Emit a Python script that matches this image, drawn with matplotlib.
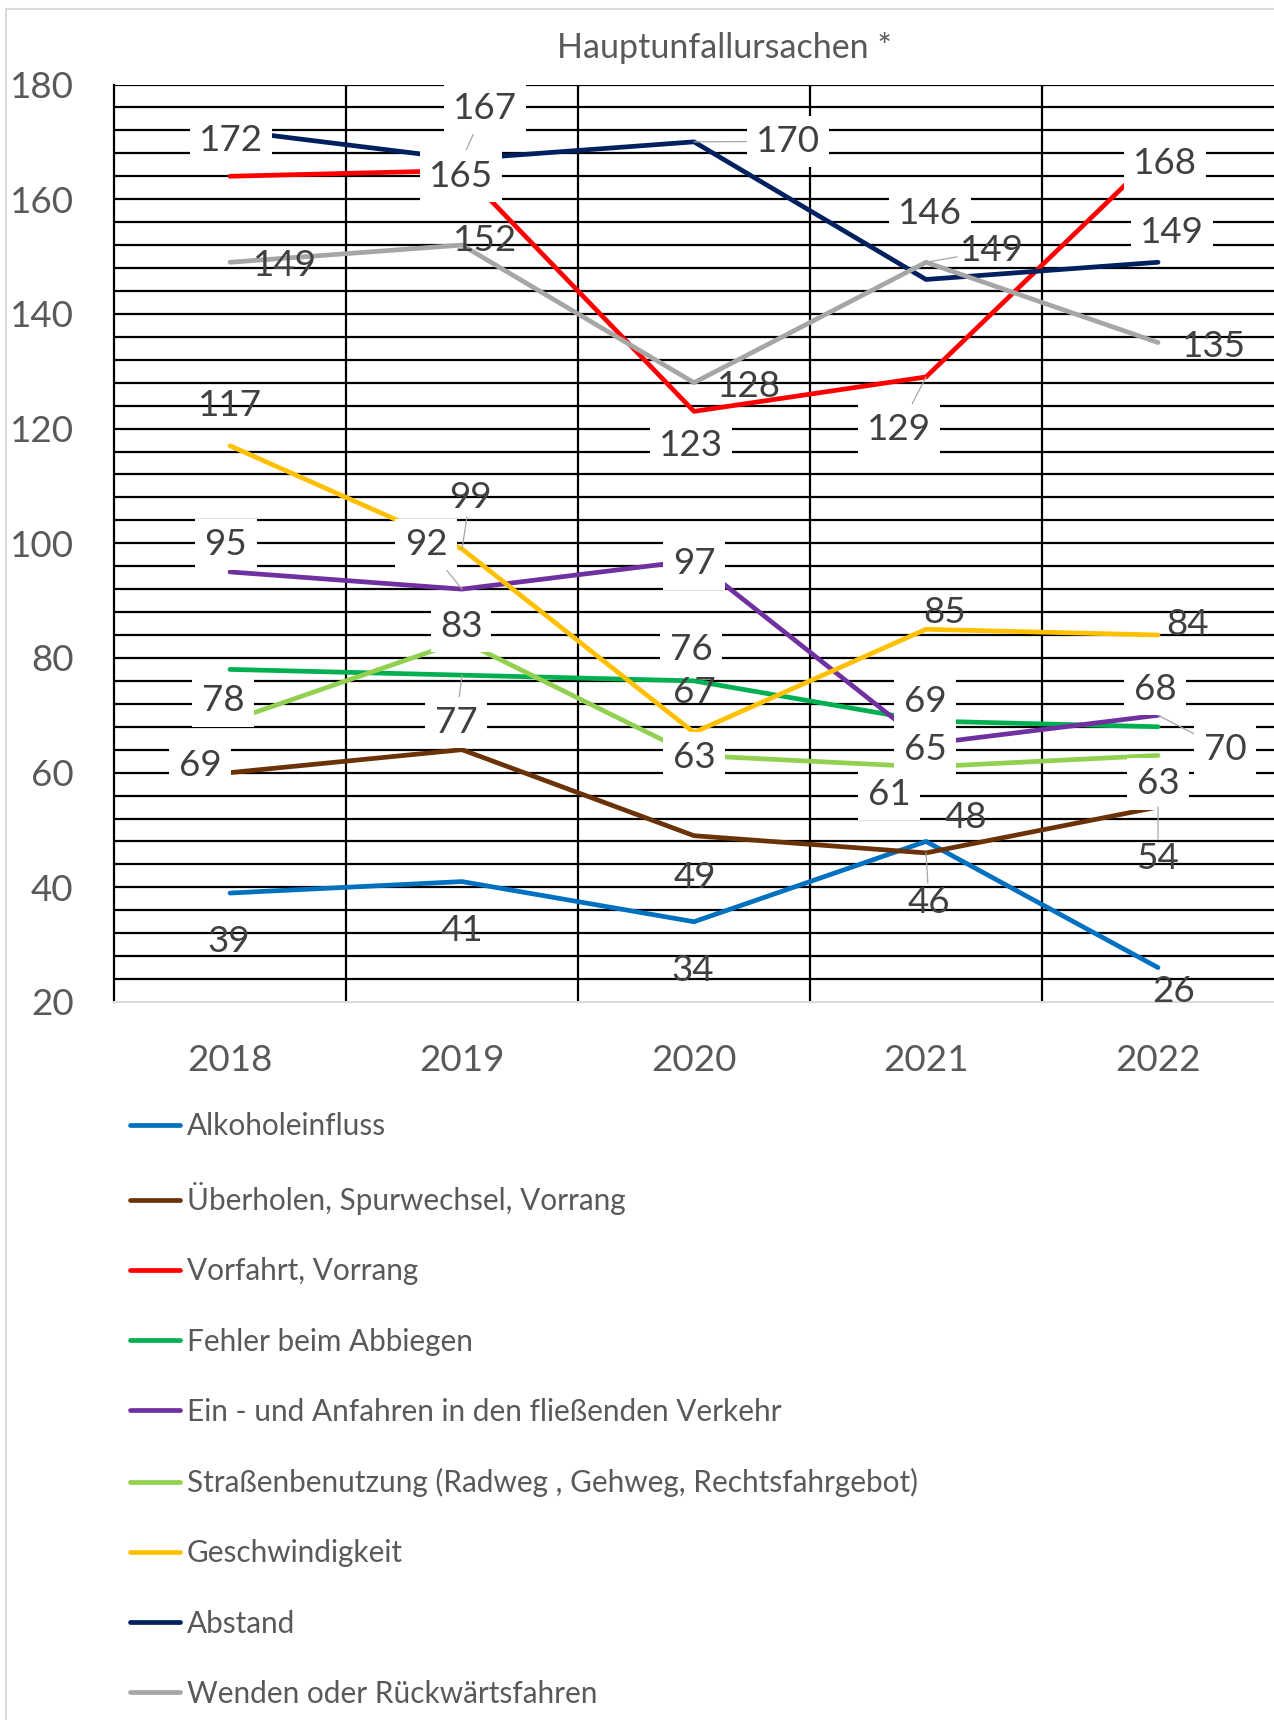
import matplotlib
matplotlib.use("Agg")
import matplotlib.pyplot as plt
from matplotlib.lines import Line2D
from matplotlib.patches import Rectangle
import numpy as np

plt.rcParams["font.family"] = ["Lato", "DejaVu Sans"]

W, H = 1274, 1720

YEARS = ["2018", "2019", "2020", "2021", "2022"]

alkohol = [39, 41, 34, 48, 26]
ueberholen = [60, 64, 49, 46, 54]
vorfahrt = [164, 165, 123, 129, 168]
abbiegen = [78, 77, 76, 69, 68]
anfahren = [95, 92, 97, 65, 70]
strasse = [69, 83, 63, 61, 63]
tempo = [117, 99, 67, 85, 84]
abstand = [172, 167, 170, 146, 149]
wenden = [149, 152, 128, 149, 135]

NAMES = [
    "Alkoholeinfluss",
    "Überholen, Spurwechsel, Vorrang",
    "Vorfahrt, Vorrang",
    "Fehler beim Abbiegen",
    "Ein - und Anfahren in den fließenden Verkehr",
    "Straßenbenutzung (Radweg , Gehweg, Rechtsfahrgebot)",
    "Geschwindigkeit",
    "Abstand",
    "Wenden oder Rückwärtsfahren",
]
VALUES = [alkohol, ueberholen, vorfahrt, abbiegen, anfahren, strasse, tempo, abstand, wenden]
COLORS = ["#0070C0", "#6B3208", "#FF0000", "#00B050", "#7030A0",
          "#92D050", "#FFC000", "#002060", "#A6A6A6"]
# series whose data labels sit in a white box
BOXED = {2, 3, 4, 5, 7}

# label placement: (series, year) -> (dx px, dy px, leader line)
LABEL_POS = {
    (7, 0): (1, -8, False), (7, 1): (23, 53, True), (7, 2): (94, 3, True),
    (7, 3): (4, 68, False), (7, 4): (14, 32, False),
    (2, 1): (-1, -3, False), (2, 2): (-3, -32, False), (2, 3): (-27, -50, True),
    (2, 4): (7, -8, False),
    (8, 0): (55, -1, False), (8, 1): (23, 7, False), (8, 2): (55, -1, False),
    (8, 3): (66, 14, True), (8, 4): (56, -1, False),
    (6, 0): (0, 43, False), (6, 1): (8, 54, True), (6, 2): (0, 42, False),
    (6, 3): (19, 19, False), (6, 4): (30, 13, False),
    (4, 0): (-4, 30, False), (4, 1): (-36, 47, True), (4, 2): (0, -1, False),
    (4, 3): (-1, -3, False), (4, 4): (67, -32, True),
    (3, 0): (-7, -29, False), (3, 1): (-6, -45, True), (3, 2): (-3, 34, False),
    (3, 3): (-1, 22, False), (3, 4): (-3, 40, False),
    (5, 0): (-30, -42, False), (5, 1): (-1, 17, False), (5, 2): (0, 0, False),
    (5, 3): (-37, -25, False), (5, 4): (0, -26, False),
    (1, 2): (1, -39, False), (1, 3): (3, -47, True), (1, 4): (0, -49, True),
    (0, 0): (-1, -46, False), (0, 1): (0, -46, False), (0, 2): (-1, -46, False),
    (0, 3): (40, 26, False), (0, 4): (16, -21, False),
}

fig = plt.figure(figsize=(W / 100, H / 100), dpi=100)
fig.patches.append(Rectangle((5.5 / W, -0.1), 1.2, 1.1 - 9 / H, transform=fig.transFigure,
                             fill=False, edgecolor="#D9D9D9", lw=1.5))
ax = fig.add_axes([114 / W, 1 - 1002 / H, (W - 114) / W, (1002 - 84.5) / H])

x = np.arange(len(YEARS))
ax.set_xlim(-0.5, len(YEARS) - 0.5)
ax.set_ylim(20, 180)

# grid: every 4 units, category separators
ax.hlines(np.arange(24, 181, 4), -0.5, len(YEARS) - 0.5, color="black", lw=1.6, zorder=1)
for xv in x[:-1] + 0.5:
    ax.axvline(xv, color="black", lw=1.6, zorder=1)

for i, (vals, col) in enumerate(zip(VALUES, COLORS)):
    ax.plot(x, vals, color=col, lw=3.4, solid_capstyle="round",
            solid_joinstyle="round", zorder=3, label=NAMES[i])

for (si, yi), (dx, dy, leader) in LABEL_POS.items():
    kw = {}
    if si in BOXED:
        kw["bbox"] = dict(boxstyle="square,pad=0.25", fc="white", ec="none")
    if leader:
        kw["arrowprops"] = dict(arrowstyle="-", color="#A6A6A6", lw=0.9,
                                shrinkA=0, shrinkB=0)
    ax.annotate(str(VALUES[si][yi]), (x[yi], VALUES[si][yi]), xytext=(dx, dy - 2.5),
                textcoords="offset pixels", ha="center", va="center",
                fontsize=26.5, color="#404040", zorder=5, **kw)

for side in ("top", "right"):
    ax.spines[side].set_visible(False)
ax.spines["left"].set_color("black")
ax.spines["left"].set_linewidth(1.6)
ax.spines["bottom"].set_color("#D9D9D9")
ax.spines["bottom"].set_linewidth(1.5)

ax.set_xticks(x)
ax.set_xticklabels(YEARS)
ax.set_yticks(np.arange(20, 181, 20))
ax.tick_params(axis="both", length=0, labelsize=26.5, labelcolor="#595959")
ax.tick_params(axis="x", pad=30.5)
ax.tick_params(axis="y", pad=29)

fig.text(724 / W, 1 - 48 / H, "Hauptunfallursachen *", ha="center", va="center",
         fontsize=24.5, color="#595959")

handles = [Line2D([0], [0], color=c, lw=3.4, solid_capstyle="round") for c in COLORS]
fig.legend(handles, NAMES, loc="upper left", bbox_to_anchor=(129.5 / W, 1 - 1112 / H),
           frameon=False, fontsize=21.4, handlelength=1.71, handletextpad=0.22,
           labelspacing=1.42, borderpad=0, borderaxespad=0, labelcolor="#595959")

fig.savefig("out.png", dpi=100)
